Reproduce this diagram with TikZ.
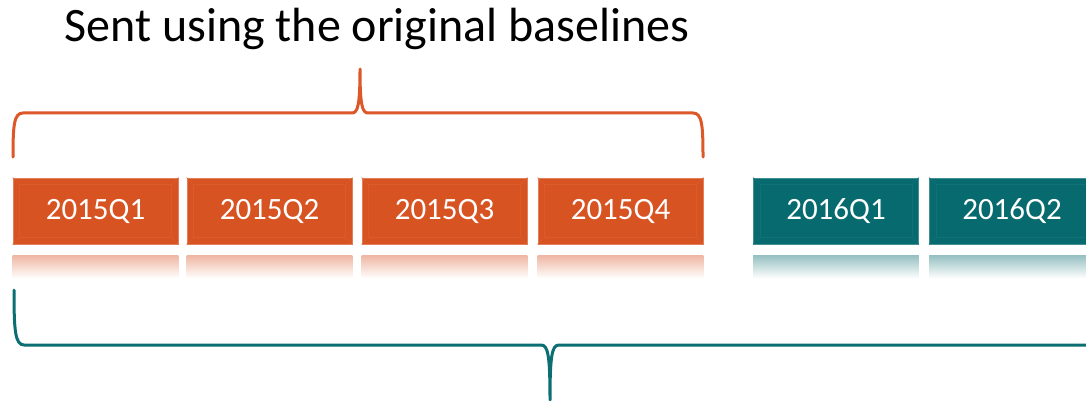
\documentclass[tikz,border=0pt]{standalone}
\usepackage{fontspec}
\setmainfont{Carlito}
\definecolor{rust}{RGB}{216,83,34}
\definecolor{rustline}{RGB}{221,88,40}
\definecolor{teal}{RGB}{6,106,110}
\definecolor{tealline}{RGB}{10,110,115}
\tikzset{
  quarter/.style={rectangle, minimum width=165pt, minimum height=66pt,
    inner sep=0pt, text=white, font=\fontsize{31}{36}\selectfont,
    fill=#1, draw=#1!75!white, line width=0.8pt},
  bracepath/.style={line width=3pt, line cap=round, line join=round, draw=#1},
  glow/.style={top color=#1!42!white, bottom color=white, draw=none},
}
\newcommand{\bevel}[2]{%
  % soft inner bevel lines of a box: #1 node name, #2 colour
  \draw[#2!95!white, line width=0.6pt]
    ([shift={(7pt,-7pt)}]#1.north west) rectangle ([shift={(-7pt,7pt)}]#1.south east);
  \foreach \c/\dx/\dy in {north west/7/-7, north east/-7/-7, south west/7/7, south east/-7/7}
    \draw[#2!95!white, line width=0.6pt] (#1.\c) -- ([shift={(\dx pt,\dy pt)}]#1.\c);
}
\begin{document}
\begin{tikzpicture}[x=1pt, y=-1pt]
  \useasboundingbox (0,0) rectangle (1086,401);
  \clip (0,0) rectangle (1086,401);

  % title
  \node[font=\fontsize{48}{58}\selectfont, anchor=base] (title) at (377,42)
    {Sent using the original baselines};

  % quarter boxes
  \node[quarter=rust] (q1) at (95.5,211) {2015Q1};
  \node[quarter=rust] (q2) at (269.5,211) {2015Q2};
  \node[quarter=rust] (q3) at (444.5,211) {2015Q3};
  \node[quarter=rust] (q4) at (620.5,211) {2015Q4};
  \node[quarter=teal] (r1) at (836,211) {2016Q1};
  \node[quarter=teal] (r2) at (1012,211) {2016Q2};

  \foreach \n in {q1,q2,q3,q4} {\bevel{\n}{rust}}
  \foreach \n in {r1,r2} {\bevel{\n}{teal}}

  % mirrored reflections under the boxes
  \foreach \n in {q1,q2,q3,q4}
    \shade[glow=rust] ([yshift=-11pt]\n.south west) rectangle ([yshift=-34pt]\n.south east);
  \foreach \n in {r1,r2}
    \shade[glow=teal] ([yshift=-11pt]\n.south west) rectangle ([yshift=-34pt]\n.south east);

  % upper brace over the 2015 quarters
  \coordinate (tl) at (13,157);
  \coordinate (tr) at (703,157);
  \coordinate (ttip) at (360,69);
  \draw[bracepath=rustline]
    (tl) .. controls (13,125) and (14,113) .. (23,113) -- (352,113)
    .. controls (358,113) and (360,104) .. (ttip)
    .. controls (360,104) and (362,113) .. (368,113) -- (693,113)
    .. controls (702,113) and (703,125) .. (tr);

  % lower brace under all quarters
  \coordinate (bl) at (14,290);
  \coordinate (br) at (1100,290);
  \coordinate (btip) at (550,400);
  \draw[bracepath=tealline]
    (bl) .. controls (14,330) and (15,345) .. (24,345) -- (541,345)
    .. controls (548,345) and (550,355) .. (btip)
    .. controls (550,355) and (552,345) .. (559,345) -- (1090,345)
    .. controls (1099,345) and (1100,330) .. (br);
\end{tikzpicture}
\end{document}
